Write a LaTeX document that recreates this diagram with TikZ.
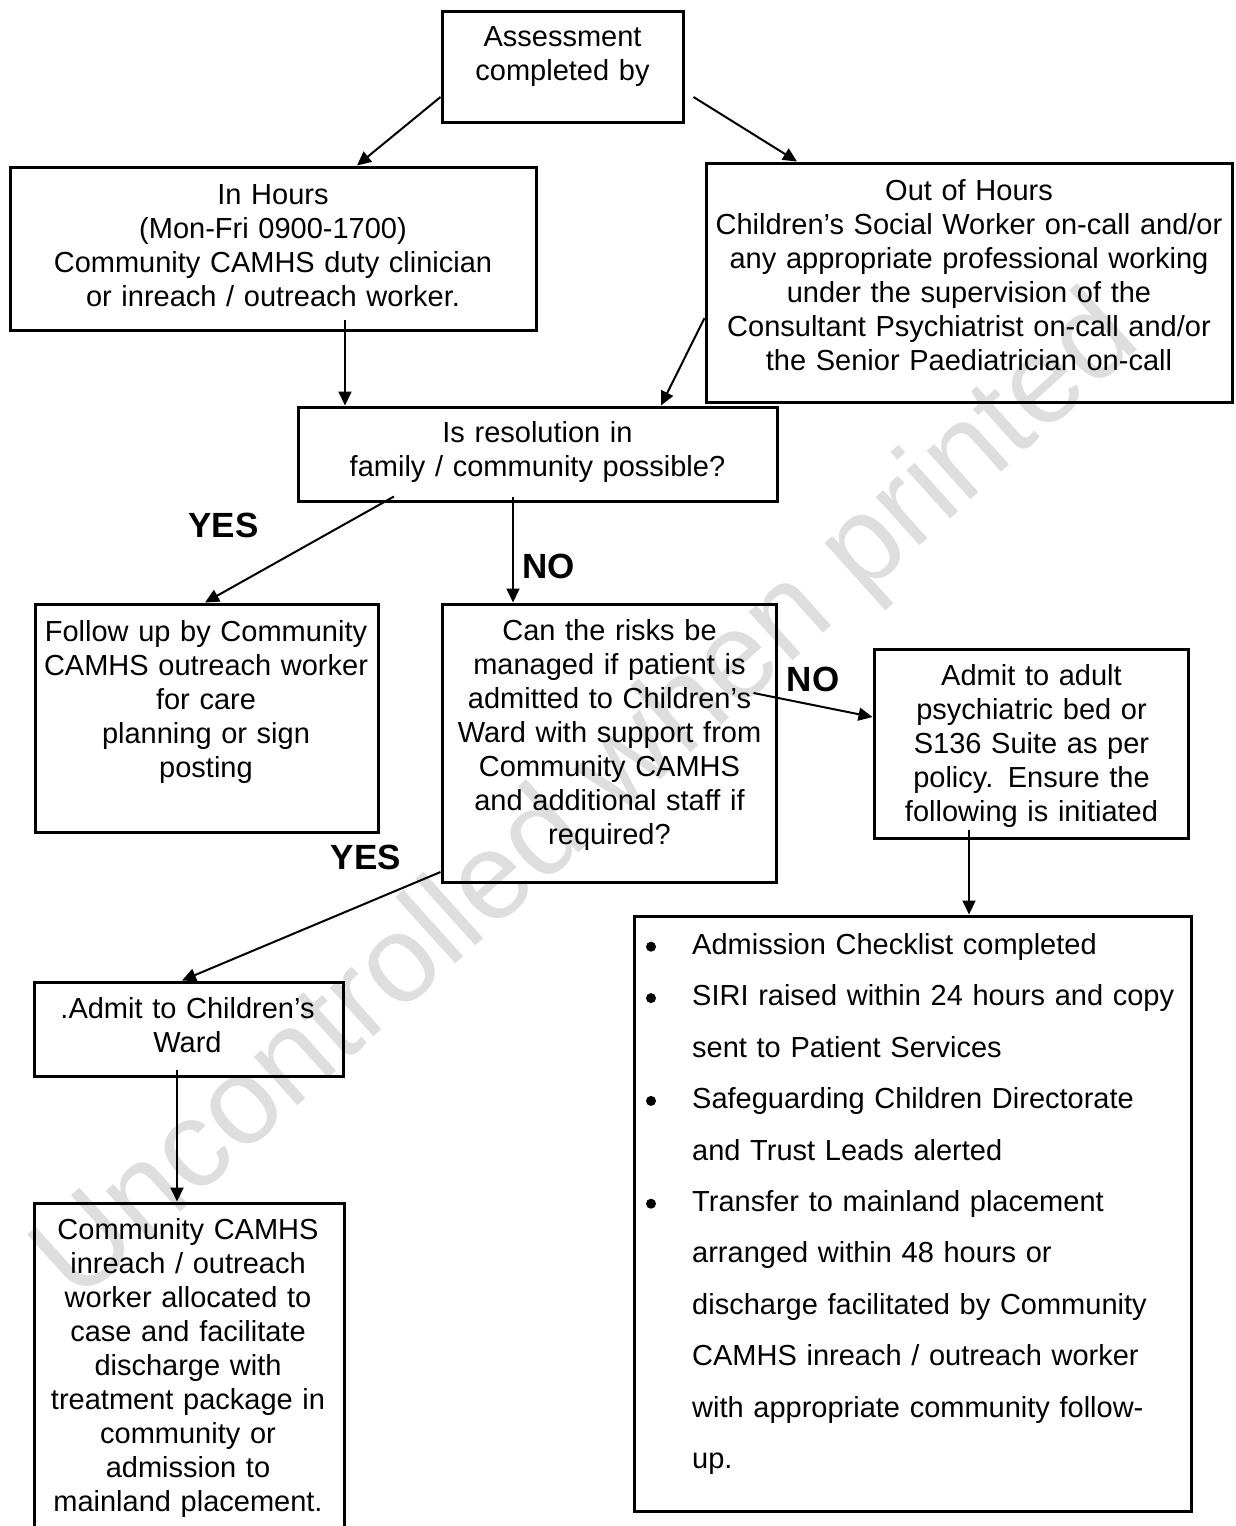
\documentclass[tikz,border=0pt]{standalone}
\usepackage{fontspec}
\setmainfont{Liberation Sans}
\usetikzlibrary{arrows.meta,calc}
\begin{document}
\begin{tikzpicture}[x=1pt,y=-1pt,
  box/.style={draw, line width=3pt, inner sep=0pt},
  txt/.style={inner sep=0pt, align=center, font=\fontsize{29}{34}\selectfont,
    execute at begin node=\strut, execute at end node=\strut},
  lbl/.style={inner sep=0pt, font=\fontsize{35}{40}\selectfont\bfseries},
  arr/.style={line width=2pt, -{Triangle[length=14pt,width=13pt]}},
  wmark/.style={inner sep=0pt, text=black!13, font=\fontsize{123.5}{124}\selectfont}]
\useasboundingbox (0,0) rectangle (1235,1526);

% watermark
\node[wmark, rotate=42] (wm) at (589,801) {Uncontrolled when printed};

% boxes
\node[box, minimum width=241pt, minimum height=111pt] (assess) at (562.5,66.5) {};
\node[box, minimum width=526pt, minimum height=163pt] (inhours) at (273,248.5) {};
\node[box, minimum width=526pt, minimum height=239pt] (outhours) at (969,282.5) {};
\node[box, minimum width=479pt, minimum height=94pt] (resol) at (537.5,454) {};
\node[box, minimum width=343pt, minimum height=228pt] (follow) at (206.5,718) {};
\node[box, minimum width=334pt, minimum height=278pt] (risks) at (609,743) {};
\node[box, minimum width=314pt, minimum height=189pt] (adult) at (1031,743.5) {};
\node[box, minimum width=557pt, minimum height=595pt] (bullets) at (912.5,1213.5) {};
\node[box, minimum width=309pt, minimum height=94pt] (admitcw) at (188.5,1029) {};
\node[box, minimum width=310pt, minimum height=342pt] (comm) at (189,1374) {};

% texts
\node[txt, text width=235pt] (assessT) at (562.5,56.9) {Assessment\\completed by};
\node[txt, text width=520pt] (inT) at (273,248.2) {In Hours\\(Mon-Fri 0900-1700)\\Community CAMHS duty clinician\\or inreach / outreach worker.};
\node[txt, text width=520pt] (outT) at (969,278.9) {Out of Hours\\Children’s Social Worker on-call and/or\\any appropriate professional working\\under the supervision of the\\Consultant Psychiatrist on-call and/or\\the Senior Paediatrician on-call};
\node[txt, text width=470pt] (resT) at (537.5,452.9) {Is resolution in\\family / community possible?};
\node[txt, text width=340pt] (followT) at (206,702.7) {Follow up by Community\\CAMHS outreach worker\\for care\\planning or sign\\posting};
\node[txt, text width=330pt] (risksT) at (609.5,735.2) {Can the risks be\\managed if patient is\\admitted to Children's\\Ward with support from\\Community CAMHS\\and additional staff if\\required?};
\node[txt, text width=310pt] (adultT) at (1031.5,746.2) {Admit to adult\\psychiatric bed or\\S136 Suite as per\\policy. Ensure the\\following is initiated};
\node[txt, text width=305pt] (admitT) at (187.5,1028.5) {.Admit to Children’s\\Ward};
\node[txt, text width=305pt] (commT) at (188,1368.5) {Community CAMHS\\inreach / outreach\\worker allocated to\\case and facilitate\\discharge with\\treatment package in\\community or\\admission to\\mainland placement.};

% bullet list
\node[inner sep=0pt, anchor=north west, align=left, text width=495pt,
  font=\fontsize{29}{51.4}\selectfont, execute at begin node=\strut] (listT) at (692,918.3)
  {Admission Checklist completed\\
   SIRI raised within 24 hours and copy\\
   sent to Patient Services\\
   Safeguarding Children Directorate\\
   and Trust Leads alerted\\
   Transfer to mainland placement\\
   arranged within 48 hours or\\
   discharge facilitated by Community\\
   CAMHS inreach / outreach worker\\
   with appropriate community follow-\\
   up.};
\foreach \b in {954.3,1005.7,1108.5,1211.3}
  \fill (651,\b-7.6) circle (5);

% labels
\node[lbl] (yes1) at (223.5,525) {YES};
\node[lbl] (no1) at (548.3,566.5) {NO};
\node[lbl] (no2) at (813,679) {NO};
\node[lbl] (yes2) at (366,857) {YES};

% connectors
\draw[arr] (assess.west |- 0,97) -- (357,0 |- inhours.north);
\draw[arr] ($(assess.east |- 0,97)+(9,0)$) -- (797,0 |- outhours.north);
\draw[arr] ($(345,0 |- inhours.south)+(0,-12)$) -- (345,0 |- resol.north);
\draw[arr] (outhours.west |- 0,318) -- (661,0 |- resol.north);
\draw[arr] ($(394,0 |- resol.south)+(0,-6)$) -- (205,0 |- follow.north);
\draw[arr] ($(513,0 |- resol.south)+(0,-6)$) -- (513,0 |- risks.north);
\draw[arr] ($(risks.east |- 0,693)+(-24,0)$) -- (adult.west |- 0,717);
\draw[arr] (risks.west |- 0,872) -- (182,0 |- admitcw.north);
\draw[arr] ($(177,0 |- admitcw.south)+(0,-8)$) -- (177,0 |- comm.north);
\draw[arr] ($(969,0 |- adult.south)+(0,-10)$) -- (969,0 |- bullets.north);
\end{tikzpicture}
\end{document}
